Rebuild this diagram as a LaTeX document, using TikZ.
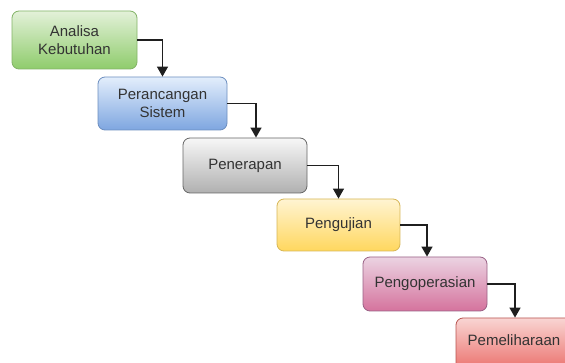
\documentclass[tikz,border=0pt]{standalone}
\usepackage{fontspec}
\setmainfont{Liberation Sans}
\usetikzlibrary{arrows.meta}
\definecolor{grnT}{HTML}{E3F1D9}\definecolor{grnB}{HTML}{8FCC6C}\definecolor{grnD}{HTML}{82B366}
\definecolor{bluT}{HTML}{E3EEFC}\definecolor{bluB}{HTML}{7EA6E0}\definecolor{bluD}{HTML}{6C8EBF}
\definecolor{gryT}{HTML}{F7F7F7}\definecolor{gryB}{HTML}{B0B0B0}\definecolor{gryD}{HTML}{666666}
\definecolor{ylwT}{HTML}{FFF4D2}\definecolor{ylwB}{HTML}{FFD75E}\definecolor{ylwD}{HTML}{D6B656}
\definecolor{pnkT}{HTML}{EBD3E2}\definecolor{pnkB}{HTML}{D5739D}\definecolor{pnkD}{HTML}{996185}
\definecolor{redT}{HTML}{F9D5D3}\definecolor{redB}{HTML}{EA6B66}\definecolor{redD}{HTML}{B85450}
\definecolor{txt}{HTML}{333333}
\begin{document}
\begin{tikzpicture}[x=1pt,y=-1pt,
  stage/.style n args={3}{draw=#3, top color=#1, bottom color=#2,
    rounded corners=7pt, line width=0.8pt, align=center, inner sep=0pt,
    text=txt, font=\fontsize{15}{18}\selectfont},
  flow/.style={draw=black!88, line width=1.4pt,
    -{Triangle[length=10pt,width=11pt]}}]
\useasboundingbox (0,0) rectangle (565,363);
\clip (0,0) rectangle (565,363);
% stages of the waterfall
\node[stage={grnT}{grnB}{grnD}, minimum width=125pt, minimum height=58pt] (s1) at (74.5,40) {Analisa\\Kebutuhan};
\node[stage={bluT}{bluB}{bluD}, minimum width=129pt, minimum height=53pt] (s2) at (162.5,103.5) {Perancangan\\Sistem};
\node[stage={gryT}{gryB}{gryD}, minimum width=124pt, minimum height=55pt] (s3) at (245,165.5) {Penerapan};
\node[stage={ylwT}{ylwB}{ylwD}, minimum width=123pt, minimum height=52pt] (s4) at (338.5,225) {Pengujian};
\node[stage={pnkT}{pnkB}{pnkD}, minimum width=124pt, minimum height=54pt] (s5) at (425,284) {Pengoperasian};
\node[stage={redT}{redB}{redD}, minimum width=124pt, minimum height=55pt] (s6) at (518,345.5) {\raisebox{11pt}{\hspace*{-8pt}Pemeliharaan}};
% connectors between stages
\draw[flow] (s1.east) -| (s2.north);
\draw[flow] (s2.east) -| ([xshift=11pt]s3.north);
\draw[flow] (s3.east) -| (s4.north);
\draw[flow] (s4.east) -| ([xshift=2pt]s5.north);
\draw[flow] (s5.east) -| ([xshift=-3pt]s6.north);
\end{tikzpicture}
\end{document}
